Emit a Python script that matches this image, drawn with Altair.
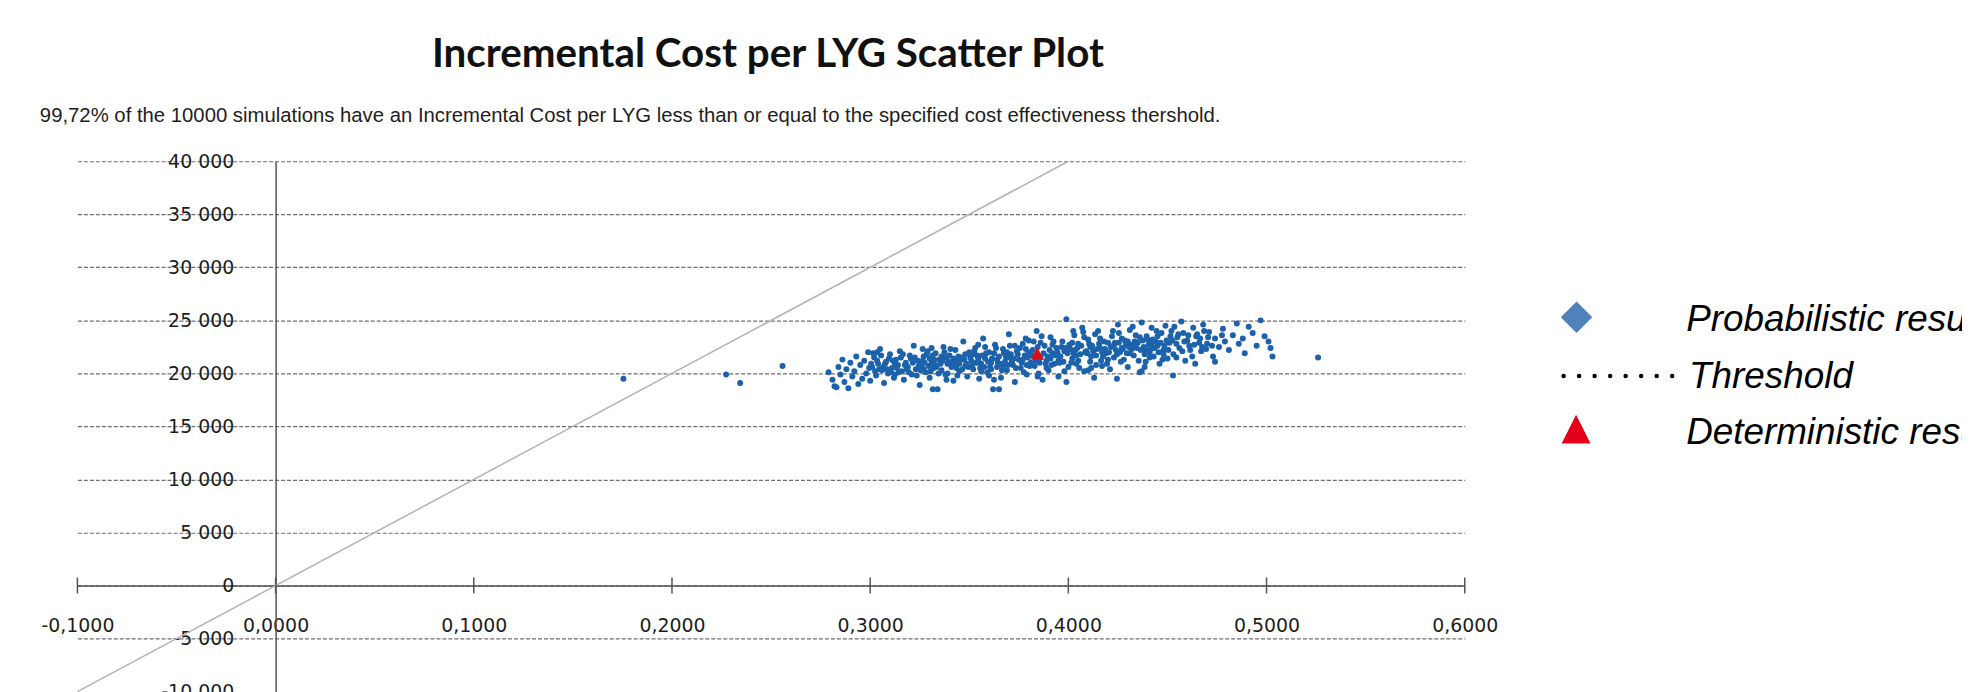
import altair as alt
import pandas as pd

# ---------------- text ----------------
title_text = "Incremental Cost per LYG Scatter Plot"
subtitle_text = ("99,72% of the 10000 simulations have an Incremental Cost per LYG less than "
                 "or equal to the specified cost effectiveness thershold.")
legend_labels = ["Probabilistic results", "Threshold", "Deterministic results"]

# ---------------- axes ----------------
x_ticks = [-0.1, 0.0, 0.1, 0.2, 0.3, 0.4, 0.5, 0.6]
y_ticks = [-10000, -5000, 0, 5000, 10000, 15000, 20000, 25000, 30000, 35000, 40000]

# ---------------- threshold line (cost per LYG = 100 000) ----------------
threshold_x = [-0.1, 0.4]
threshold_y = [-10000, 40000]

# ---------------- deterministic result ----------------
det_x = [0.3843]
det_y = [21900]

# ---------------- probabilistic results (LYG, cost in thousands) ----------------
sim_outliers = [
    (0.1755, 19.5), (0.2273, 19.9), (0.2344, 19.1), (0.2558, 20.7), (0.283, 18.7),
    (0.3316, 18.5), (0.365, 18.5), (0.399, 19.2), (0.4245, 19.5), (0.437, 20.2),
    (0.4528, 19.8), (0.474, 21.1), (0.526, 21.5),
]
sim_left = [
    (0.279, 20.1), (0.281, 19.4), (0.282, 18.8), (0.284, 20.6), (0.285, 19.9), (0.286, 21.3),
    (0.287, 19.2), (0.288, 20.4), (0.289, 18.6), (0.290, 21.0), (0.291, 19.7), (0.292, 20.2),
    (0.293, 21.6), (0.294, 19.0), (0.295, 20.8), (0.296, 19.5), (0.297, 21.2), (0.298, 20.0),
    (0.299, 22.0), (0.300, 19.3),
    (0.301, 20.6), (0.302, 21.5), (0.303, 19.8), (0.304, 20.9), (0.305, 22.3), (0.306, 20.3),
    (0.307, 19.1), (0.308, 21.1), (0.309, 20.0), (0.310, 21.8), (0.311, 20.5), (0.312, 19.6),
    (0.313, 21.3), (0.314, 20.8), (0.315, 22.1), (0.316, 20.2), (0.317, 19.4), (0.318, 21.0),
    (0.319, 20.6), (0.320, 21.7), (0.321, 19.9), (0.322, 22.6), (0.323, 20.4), (0.324, 21.2),
    (0.325, 18.9),
]
sim_mid_a = [
    (0.326, 20.8), (0.327, 21.6), (0.328, 20.1), (0.329, 22.1), (0.330, 19.6), (0.331, 21.0),
    (0.332, 20.5), (0.333, 21.9), (0.334, 18.5), (0.335, 21.3), (0.336, 20.3), (0.337, 22.5),
    (0.338, 19.9), (0.339, 20.9), (0.340, 21.7), (0.341, 20.6), (0.342, 19.3), (0.343, 22.2),
    (0.344, 21.1), (0.345, 20.2), (0.346, 21.5), (0.347, 23.0), (0.348, 20.7), (0.349, 19.7),
    (0.350, 22.0),
    (0.327, 20.4), (0.330, 21.4), (0.333, 20.8), (0.336, 21.6), (0.339, 20.0), (0.342, 21.4),
    (0.345, 20.9), (0.348, 21.8), (0.331, 22.4), (0.344, 19.8),
]
sim_mid_b = [
    (0.351, 21.2), (0.352, 20.4), (0.353, 22.4), (0.354, 21.7), (0.355, 19.5), (0.356, 20.9),
    (0.357, 23.3), (0.358, 21.4), (0.359, 20.1), (0.360, 22.0), (0.361, 21.0), (0.362, 18.5),
    (0.363, 22.7), (0.364, 20.6), (0.365, 21.6), (0.366, 19.6), (0.367, 22.3), (0.368, 21.1),
    (0.369, 20.3), (0.370, 23.7), (0.371, 21.8), (0.372, 20.8), (0.373, 19.2), (0.374, 22.1),
    (0.375, 21.3),
    (0.352, 21.8), (0.355, 21.0), (0.358, 22.5), (0.361, 20.4), (0.364, 21.3), (0.367, 20.7),
    (0.370, 21.5), (0.373, 22.6), (0.356, 20.2), (0.369, 22.0), (0.360, 19.8),
]
sim_mid_c = [
    (0.376, 20.5), (0.377, 22.8), (0.378, 21.7), (0.379, 19.9), (0.380, 23.1), (0.381, 21.0),
    (0.382, 22.2), (0.383, 20.7), (0.384, 24.0), (0.386, 21.5), (0.387, 19.4), (0.388, 22.6),
    (0.389, 21.2), (0.390, 20.3), (0.391, 23.4), (0.392, 21.9), (0.393, 20.9), (0.394, 22.4),
    (0.395, 19.7), (0.396, 21.6), (0.397, 23.0), (0.398, 22.1), (0.399, 25.1), (0.400, 20.6),
    (0.377, 21.3), (0.380, 22.0), (0.383, 21.6), (0.386, 22.9), (0.389, 20.5), (0.392, 22.7),
    (0.395, 21.2), (0.398, 20.2), (0.379, 20.8), (0.391, 21.4), (0.385, 20.0),
]
sim_right_a = [
    (0.401, 22.3), (0.402, 21.4), (0.403, 23.6), (0.404, 20.9), (0.405, 22.8), (0.406, 21.8),
    (0.407, 24.3), (0.408, 20.2), (0.409, 22.1), (0.410, 23.2), (0.411, 21.1), (0.412, 22.6),
    (0.413, 19.6), (0.414, 21.7), (0.415, 24.0), (0.416, 22.4), (0.417, 20.7), (0.418, 23.0),
    (0.419, 21.9), (0.420, 22.9), (0.421, 20.4), (0.422, 23.5), (0.423, 21.5), (0.424, 22.2),
    (0.425, 24.6),
    (0.402, 22.9), (0.405, 21.2), (0.408, 23.4), (0.411, 22.5), (0.414, 20.8), (0.417, 22.0),
    (0.420, 21.3), (0.423, 22.7), (0.404, 21.7), (0.416, 23.3), (0.410, 20.3),
]
sim_right_b = [
    (0.426, 22.0), (0.427, 23.3), (0.428, 21.3), (0.429, 22.7), (0.430, 20.6), (0.431, 24.1),
    (0.432, 22.3), (0.433, 21.7), (0.434, 23.6), (0.435, 22.9), (0.436, 20.1), (0.437, 24.8),
    (0.438, 22.5), (0.439, 21.1), (0.440, 23.2), (0.441, 22.0), (0.442, 24.3), (0.443, 21.6),
    (0.444, 23.0), (0.445, 22.6), (0.446, 20.9), (0.447, 23.8), (0.448, 22.2), (0.449, 24.5),
    (0.450, 21.4),
    (0.427, 22.4), (0.430, 23.0), (0.433, 22.6), (0.436, 23.4), (0.439, 22.2), (0.442, 22.8),
    (0.445, 23.5), (0.448, 21.8), (0.431, 21.9), (0.441, 21.5),
]
sim_tail = [
    (0.451, 22.9), (0.452, 24.0), (0.453, 21.8), (0.455, 23.4), (0.456, 22.4), (0.457, 24.9),
    (0.459, 21.2), (0.460, 23.1), (0.461, 22.6), (0.463, 24.3), (0.464, 20.9), (0.465, 23.7),
    (0.467, 22.1), (0.468, 24.6), (0.470, 22.8), (0.471, 23.9), (0.473, 21.6), (0.474, 23.3),
    (0.458, 23.8), (0.466, 22.9),
    (0.476, 22.5), (0.478, 24.2), (0.479, 23.0), (0.481, 22.2), (0.483, 23.6), (0.485, 24.7),
    (0.486, 22.8), (0.488, 23.3), (0.489, 21.9), (0.491, 24.4), (0.493, 23.8), (0.495, 22.6),
    (0.497, 25.0), (0.499, 23.5), (0.501, 23.0), (0.502, 22.4), (0.503, 21.6),
]
sim_core = [
    (0.3005, 20.9), (0.3035, 21.2), (0.3065, 20.6), (0.3095, 21.4), (0.3125, 20.9), (0.3155, 21.5),
    (0.3185, 20.4), (0.3215, 21.0), (0.3245, 20.7), (0.3025, 20.2), (0.3085, 20.4), (0.3145, 20.1),
    (0.3205, 21.4), (0.3235, 19.8),
    (0.3265, 21.2), (0.3295, 20.7), (0.3325, 21.3), (0.3355, 20.9), (0.3385, 21.5), (0.3415, 21.0),
    (0.3445, 21.6), (0.3475, 21.3), (0.3495, 20.6), (0.3285, 21.8), (0.3345, 20.0), (0.3405, 22.3),
    (0.3465, 20.4), (0.3375, 22.0), (0.3435, 20.5),
    (0.3505, 21.5), (0.3535, 21.0), (0.3565, 21.7), (0.3595, 21.1), (0.3625, 21.9), (0.3655, 20.9),
    (0.3685, 21.6), (0.3715, 21.1), (0.3745, 21.8), (0.3525, 22.1), (0.3575, 20.6), (0.3635, 22.4),
    (0.3665, 20.3), (0.3705, 22.6), (0.3735, 20.5),
    (0.3755, 22.4), (0.3785, 22.3), (0.3815, 21.7), (0.3845, 22.5), (0.3875, 21.9), (0.3905, 22.2),
    (0.3935, 21.7), (0.3965, 22.5), (0.3995, 21.9), (0.3775, 20.1), (0.3825, 23.0), (0.3885, 20.9),
    (0.3925, 23.0), (0.3975, 21.1), (0.3865, 23.5),
    (0.4005, 22.7), (0.4035, 22.2), (0.4065, 22.6), (0.4095, 21.9), (0.4125, 22.1), (0.4155, 22.8),
    (0.4185, 22.3), (0.4215, 22.5), (0.4245, 21.8), (0.4015, 21.0), (0.4075, 23.9), (0.4135, 23.7),
    (0.4195, 20.9), (0.4225, 24.0), (0.4055, 20.5), (0.4175, 21.6),
    (0.4255, 22.9), (0.4285, 23.1), (0.4315, 22.7), (0.4345, 22.4), (0.4375, 23.1), (0.4405, 22.7),
    (0.4435, 22.4), (0.4465, 22.9), (0.4495, 23.1), (0.4265, 21.1), (0.4325, 24.4), (0.4385, 21.8),
    (0.4445, 24.0), (0.4475, 21.3), (0.4355, 21.2),
    (0.4515, 23.5), (0.4545, 22.8), (0.4575, 22.1), (0.4605, 23.6), (0.4635, 22.7), (0.4665, 23.3),
    (0.4695, 22.3), (0.4535, 24.4), (0.4625, 21.6), (0.4685, 24.0),
]
sim_core2 = [
    (0.2995, 20.5), (0.3015, 21.9), (0.3045, 20.4), (0.3055, 21.7), (0.3075, 20.9), (0.3105, 20.1),
    (0.3115, 21.2), (0.3135, 20.5), (0.3165, 21.8), (0.3175, 20.8), (0.3195, 20.1), (0.3225, 21.5),
    (0.3255, 20.3), (0.3275, 21.0),
    (0.3305, 20.2), (0.3315, 21.7), (0.3335, 20.6), (0.3365, 21.2), (0.3395, 21.1), (0.3425, 20.8),
    (0.3455, 21.3), (0.3485, 20.9), (0.3515, 20.8), (0.3545, 21.4), (0.3555, 20.5), (0.3585, 21.9),
    (0.3605, 20.6), (0.3615, 21.4),
    (0.3645, 21.0), (0.3675, 21.9), (0.3695, 20.8), (0.3725, 21.4), (0.3765, 21.0), (0.3795, 21.5),
    (0.3805, 20.7), (0.3835, 21.2), (0.3855, 21.0), (0.3895, 21.6), (0.3915, 20.8), (0.3945, 22.0),
    (0.3955, 21.0), (0.3985, 22.4),
    (0.4025, 21.9), (0.4045, 22.4), (0.4085, 22.0), (0.4105, 22.8), (0.4115, 21.6), (0.4145, 22.3),
    (0.4165, 21.2), (0.4205, 22.0), (0.4235, 22.9), (0.4275, 22.3), (0.4295, 21.9), (0.4305, 22.5),
    (0.4335, 23.0), (0.4365, 22.2),
    (0.4395, 23.5), (0.4415, 22.3), (0.4425, 23.2), (0.4455, 22.0), (0.4485, 22.6), (0.4505, 22.2),
    (0.4525, 23.1), (0.4555, 23.7), (0.4585, 23.0), (0.4615, 22.2), (0.4645, 23.5), (0.4675, 22.5),
    (0.4705, 23.4), (0.4725, 22.6),
    (0.3035, 22.0), (0.3125, 19.9), (0.3265, 22.3), (0.3385, 19.4), (0.3545, 22.7), (0.3625, 19.4),
    (0.3785, 23.3), (0.3845, 19.7), (0.4025, 24.0), (0.4115, 20.5), (0.4255, 23.8), (0.4385, 20.6),
    (0.4545, 21.5), (0.4775, 23.6),
]

sim_all = (sim_outliers + sim_left + sim_mid_a + sim_mid_b + sim_mid_c
           + sim_right_a + sim_right_b + sim_tail + sim_core + sim_core2)
df_sim = pd.DataFrame(sim_all, columns=["lyg", "cost_k"])
df_sim["cost"] = df_sim["cost_k"] * 1000

df_thr = pd.DataFrame({"lyg": threshold_x, "cost": threshold_y})
df_det = pd.DataFrame({"lyg": det_x, "cost": det_y})
df_ticks = pd.DataFrame({"lyg": x_ticks, "cost": [0] * len(x_ticks)})

# ---------------- layout (pixels) ----------------
PLOT_W = 1393
PLOT_H = 532.5
PAD_L = 69.7
PAD_T = 152.5
PAD_R = 1962 - PAD_L - PLOT_W
OX = PAD_L + 8      # page x of plot origin
OY = PAD_T + 8      # page y of plot origin

x_scale = alt.Scale(domain=[-0.1, 0.6], nice=False, zero=False)
y_scale = alt.Scale(domain=[-10000, 40000], nice=False, zero=False)

AXIS_COLOR = "#555555"
LABEL_FONT = "DejaVu Sans"

x_axis = alt.Axis(
    values=x_ticks, offset=-106.5, ticks=False, grid=False, title=None,
    domainColor=AXIS_COLOR, domainWidth=1.5, labelPadding=31,
    labelFont=LABEL_FONT, labelFontSize=19, labelColor="#1e1e1e",
    labelFlush=False, labelOverlap=False,
    labelExpr="replace(replace(format(datum.value, '.4f'), '.', ','), '\u2212', '-')",
)
y_axis = alt.Axis(
    values=y_ticks, offset=-199, ticks=False, grid=True, title=None,
    gridDash=[4, 2], gridColor="#6e6e6e", gridWidth=1.2,
    domainColor=AXIS_COLOR, domainWidth=1.5, labelPadding=42,
    labelFont=LABEL_FONT, labelFontSize=19, labelColor="#1e1e1e",
    labelFlush=False, labelOverlap=False,
    labelExpr="replace(replace(format(datum.value, ','), ',', ' '), '\u2212', '-')",
)

X = alt.X("lyg:Q", scale=x_scale, axis=x_axis)
Y = alt.Y("cost:Q", scale=y_scale, axis=y_axis)

scatter = alt.Chart(df_sim).mark_circle(size=36, color="#1c62ab", opacity=1).encode(x=X, y=Y)

threshold = alt.Chart(df_thr).mark_line(color="#b5b5b5", strokeWidth=1.6).encode(x=X, y=Y)

tri_path = "M0,-1L1,1L-1,1Z"

det = alt.Chart(df_det).mark_point(shape=tri_path, filled=True, size=170,
                                   color="#d8101e", opacity=1).encode(x=X, y=Y)

ticks = alt.Chart(df_ticks).mark_tick(orient="vertical", size=16, thickness=1.5,
                                      color=AXIS_COLOR, opacity=1).encode(x=X, y=Y)

# ---------------- titles ----------------
title = alt.Chart(pd.DataFrame({"t": [title_text]})).mark_text(
    font="Lato", fontWeight="bold", fontSize=40.5, color="#111111",
    align="center", baseline="alphabetic",
).encode(text="t:N", x=alt.value(771 - OX), y=alt.value(66 - OY))

subtitle = alt.Chart(pd.DataFrame({"t": [subtitle_text]})).mark_text(
    font="Liberation Sans", fontSize=20.4, color="#1e1e1e",
    align="left", baseline="alphabetic",
).encode(text="t:N", x=alt.value(40 - OX), y=alt.value(121 - OY))

# ---------------- legend ----------------
LEG_X = 1693 - OX
LEG_FONT = dict(font="Liberation Sans", fontStyle="italic", fontSize=37, color="#000000",
                align="left", baseline="alphabetic")
leg_text_1 = alt.Chart(pd.DataFrame({"t": [legend_labels[0]]})).mark_text(**LEG_FONT).encode(
    text="t:N", x=alt.value(LEG_X), y=alt.value(331 - OY))
leg_text_2 = alt.Chart(pd.DataFrame({"t": [legend_labels[1]]})).mark_text(**LEG_FONT).encode(
    text="t:N", x=alt.value(LEG_X + 3), y=alt.value(388 - OY))
leg_text_3 = alt.Chart(pd.DataFrame({"t": [legend_labels[2]]})).mark_text(**LEG_FONT).encode(
    text="t:N", x=alt.value(LEG_X), y=alt.value(444 - OY))

leg_diamond = alt.Chart(pd.DataFrame({"k": [legend_labels[0]]})).mark_point(
    shape="diamond", filled=True, size=1000, color="#4f81bd", opacity=1,
).encode(x=alt.value(1583 - OX), y=alt.value(317 - OY))

leg_dots = alt.Chart(pd.DataFrame({"k": [legend_labels[1]]})).mark_rule(
    color="#000000", strokeWidth=4.5, strokeCap="round", strokeDash=[0.001, 15.57],
).encode(x=alt.value(1570 - OX), x2=alt.value(1679.2 - OX), y=alt.value(376 - OY))

leg_tri = alt.Chart(pd.DataFrame({"k": [legend_labels[2]]})).mark_point(
    shape=tri_path, filled=True, size=841, color="#e2001a", opacity=1,
).encode(x=alt.value(1582.5 - OX), y=alt.value(429.5 - OY))

chart = alt.layer(
    scatter, threshold, ticks, det, title, subtitle,
    leg_text_1, leg_text_2, leg_text_3, leg_diamond, leg_dots, leg_tri
).properties(
    width=PLOT_W,
    height=PLOT_H,
    padding={"left": PAD_L, "top": PAD_T, "right": PAD_R, "bottom": 0},
    autosize=alt.AutoSizeParams(type="none"),
    background="white",
).configure_view(stroke=None)

chart.save("out.html", embed_options={"renderer": "svg", "actions": False})
